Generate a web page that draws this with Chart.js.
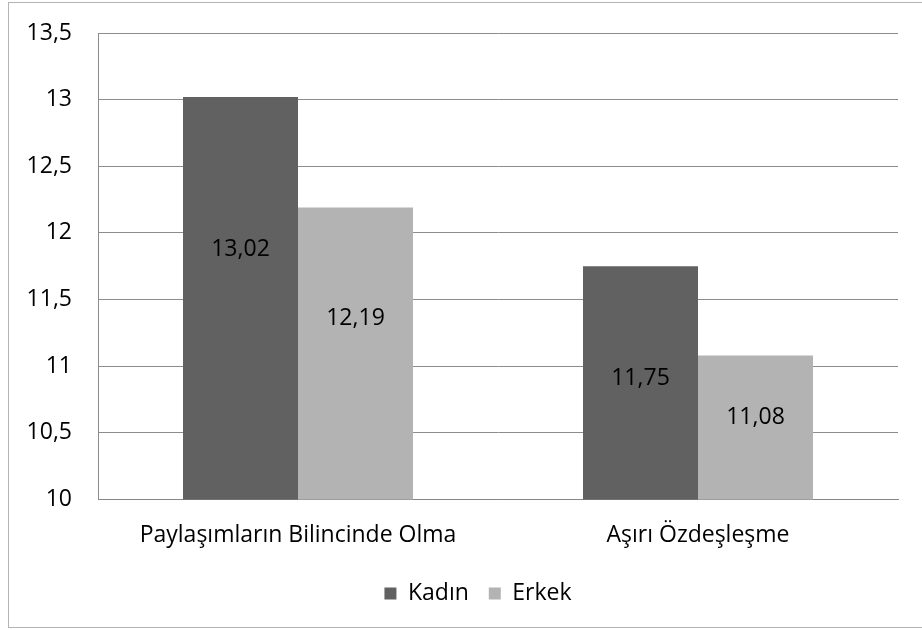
<!DOCTYPE html>
<html>
<head>
<meta charset="utf-8">
<script src="https://cdn.jsdelivr.net/npm/chart.js@4/dist/chart.umd.min.js"></script>
<style>
  html, body { margin: 0; padding: 0; background: #fff; }
  #wrap { width: 922px; height: 630px; position: relative; }
</style>
</head>
<body>
<div id="wrap"><canvas id="c" width="922" height="630"></canvas></div>
<script>
const categories = ['Paylaşımların Bilincinde Olma', 'Aşırı Özdeşleşme'];
const kadin = [13.02, 11.75];
const erkek = [12.19, 11.08];
const seriesNames = ['Kadın', 'Erkek'];
const yTicks = [10, 10.5, 11, 11.5, 12, 12.5, 13, 13.5];

const FONT = '"Open Sans", "Liberation Sans", sans-serif';
const FS = 23;
const fmt = v => String(v).replace('.', ',');

// Height of each value label inside its bar, as a fraction of the bar height
const labelFrac = [[0.62, 0.52], [0.62, 0.57]];

const frame = {
  id: 'frame',
  beforeDraw(chart) {
    const ctx = chart.ctx;
    ctx.save();
    ctx.fillStyle = '#fff';
    ctx.fillRect(0, 0, chart.width, chart.height);
    ctx.strokeStyle = '#b4b4b4';
    ctx.lineWidth = 1;
    ctx.strokeRect(8.5, 2.5, 940, 625);
    ctx.restore();
  }
};

// Nudge the legend block: a little to the right and closer to the axis labels
const legendNudge = {
  id: 'legendNudge',
  afterLayout(chart) {
    const lg = chart.legend;
    if (!lg) return;
    lg.left += 25; lg.right += 25;
    lg.top -= 9; lg.bottom -= 9;
  }
};

const valueLabels = {
  id: 'valueLabels',
  afterDraw(chart) {
    const ctx = chart.ctx;
    const yScale = chart.scales.y;
    const base = yScale.getPixelForValue(yScale.min);
    ctx.save();
    ctx.font = FS + 'px ' + FONT;
    ctx.fillStyle = '#000';
    ctx.textAlign = 'center';
    ctx.textBaseline = 'middle';
    chart.data.datasets.forEach((ds, di) => {
      const meta = chart.getDatasetMeta(di);
      meta.data.forEach((bar, i) => {
        const top = yScale.getPixelForValue(ds.data[i]);
        const y = base - (base - top) * labelFrac[di][i];
        ctx.fillText(fmt(ds.data[i]), bar.x, y);
      });
    });
    ctx.restore();
  }
};

new Chart(document.getElementById('c'), {
  type: 'bar',
  data: {
    labels: categories,
    datasets: [
      { label: seriesNames[0], data: kadin, backgroundColor: '#616161' },
      { label: seriesNames[1], data: erkek, backgroundColor: '#b3b3b3' }
    ]
  },
  options: {
    responsive: false,
    animation: false,
    devicePixelRatio: 1,
    categoryPercentage: 0.575,
    barPercentage: 1,
    layout: { padding: { left: 8, right: 24, top: 33, bottom: 6 } },
    plugins: {
      tooltip: { enabled: false },
      legend: {
        position: 'bottom',
        labels: {
          font: { family: FONT, size: FS },
          color: '#000',
          boxWidth: 12,
          boxHeight: 12,
          padding: 20,
          useBorderRadius: false
        }
      }
    },
    scales: {
      x: {
        grid: { display: false, drawTicks: false },
        border: { color: '#868686', width: 1 },
        ticks: { font: { family: FONT, size: FS }, color: '#000', padding: 22 }
      },
      y: {
        min: 10,
        max: 13.5,
        afterBuildTicks: s => { s.ticks = yTicks.map(v => ({ value: v })); },
        afterFit: s => { s.width = 90; s.paddingTop = 0; s.paddingBottom = 0; },
        grid: { color: '#8c8c8c', drawTicks: false },
        border: { color: '#8c8c8c' },
        ticks: {
          font: { family: FONT, size: FS },
          color: '#000',
          padding: 26,
          callback: v => fmt(v)
        }
      }
    }
  },
  plugins: [frame, legendNudge, valueLabels]
});
</script>
</body>
</html>
